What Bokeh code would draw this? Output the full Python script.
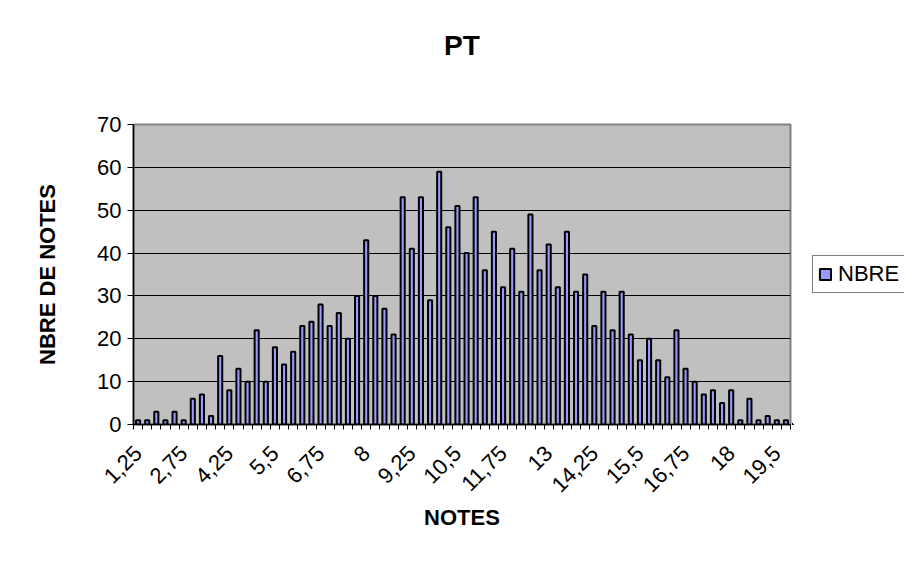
from bokeh.plotting import figure
from bokeh.layouts import row
from bokeh.models import (Range1d, FixedTicker, Legend, LegendItem, Title,
                          ColumnDataSource)
from bokeh.embed import file_html
from bokeh.resources import INLINE

notes = [1.25, 1.5, 1.75, 2, 2.5, 2.75, 3, 3.25, 3.5, 4, 4.25, 4.5, 4.75, 5,
         5.25, 5.5, 5.75, 6, 6.25, 6.5, 6.75, 7, 7.25, 7.5, 7.75, 8, 8.25,
         8.5, 8.75, 9, 9.25, 9.5, 9.75, 10, 10.25, 10.5, 10.75, 11, 11.25,
         11.5, 11.75, 12, 12.25, 12.5, 12.75, 13, 13.25, 13.5, 13.75, 14,
         14.25, 14.5, 14.75, 15, 15.25, 15.5, 15.75, 16, 16.25, 16.5, 16.75,
         17, 17.25, 17.5, 17.75, 18, 18.25, 18.5, 19, 19.25, 19.5, 20]
nbre = [1, 1, 3, 1, 3, 1, 6, 7, 2, 16, 8, 13, 10, 22, 10, 18, 14, 17, 23, 24,
        28, 23, 26, 20, 30, 43, 30, 27, 21, 53, 41, 53, 29, 59, 46, 51, 40,
        53, 36, 45, 32, 41, 31, 49, 36, 42, 32, 45, 31, 35, 23, 31, 22, 31,
        21, 15, 20, 15, 11, 22, 13, 10, 7, 8, 5, 8, 1, 6, 1, 2, 1, 1]
series_name = "NBRE"
label_every = 5
y_ticks = list(range(0, 80, 10))

FONT = "Liberation Sans"
BAR_FILL = "#9999FF"
idx = list(range(len(notes)))
labels = [f"{v:g}".replace(".", ",") for v in notes]

src = ColumnDataSource(dict(x=idx, top=nbre))

p = figure(frame_width=657, frame_height=300, output_backend="svg",
           toolbar_location=None, title=None,
           x_range=Range1d(-0.5, len(notes) - 0.5), y_range=Range1d(0, 70),
           min_border_left=133, min_border_right=2, min_border_top=124,
           min_border_bottom=141)
p.background_fill_color = "#C0C0C0"
p.border_fill_color = "white"
p.outline_line_color = "#808080"
p.outline_line_width = 2

p.vbar(x="x", top="top", width=0.45, bottom=0, source=src,
       fill_color=BAR_FILL, line_color="black", line_width=2)

# grid
p.xgrid.visible = False
p.ygrid.ticker = FixedTicker(ticks=y_ticks)
p.ygrid.grid_line_color = "black"
p.ygrid.grid_line_width = 1

# x axis
xa = p.xaxis[0]
major = idx[::label_every]
xa.ticker = FixedTicker(ticks=major,
                        minor_ticks=[i - 0.5 for i in idx] + [len(idx) - 0.5])
xa.major_label_overrides = {i: labels[i] for i in major}
xa.major_label_orientation = 0.785398
xa.major_label_standoff = 20
xa.major_tick_out = 0
xa.major_tick_in = 0
xa.minor_tick_out = 5
xa.minor_tick_in = 0
xa.minor_tick_line_color = "black"
xa.axis_line_color = "black"
xa.axis_line_width = 1.5
xa.major_label_text_font = FONT
xa.major_label_text_font_size = "22px"
xa.major_label_text_color = "black"
xa.axis_label = "NOTES"
xa.axis_label_text_font = FONT
xa.axis_label_text_font_size = "22px"
xa.axis_label_text_font_style = "bold"
xa.axis_label_text_color = "black"
xa.axis_label_standoff = 3

# y axis
ya = p.yaxis[0]
ya.ticker = FixedTicker(ticks=y_ticks)
ya.major_tick_out = 6
ya.major_tick_in = 0
ya.minor_tick_out = 0
ya.minor_tick_in = 0
ya.axis_line_color = "black"
ya.axis_line_width = 1.5
ya.major_label_text_font = FONT
ya.major_label_text_font_size = "22px"
ya.major_label_text_color = "black"
ya.major_label_standoff = 6
ya.axis_label = "NBRE DE NOTES"
ya.axis_label_text_font = FONT
ya.axis_label_text_font_size = "22px"
ya.axis_label_text_font_style = "bold"
ya.axis_label_text_color = "black"
ya.axis_label_standoff = 34

# title (spacer first, nearest the frame, then the title above it)
p.add_layout(Title(text=" ", text_font_size="42px"), "above")
p.add_layout(Title(text="PT", align="center", offset=8,
                   text_font=FONT, text_font_size="28px",
                   text_font_style="bold", text_color="black"), "above")

# legend panel drawn as a small companion figure to the right; its key
# renderer uses the same series but its ranges keep every bar out of view
lf = figure(width=112, height=565, output_backend="svg",
            toolbar_location=None, title=None, min_border=0,
            x_range=Range1d(1000, 1001), y_range=Range1d(1000, 1001))
lf.axis.visible = False
lf.grid.visible = False
lf.outline_line_color = None
lf.background_fill_color = "white"
lf.border_fill_color = "white"
key = lf.vbar(x="x", top="top", width=0.45, bottom=0, source=src,
              fill_color=BAR_FILL, line_color="black", line_width=2)
legend = Legend(items=[LegendItem(label=series_name, renderers=[key])],
                location=(20, 131), orientation="vertical",
                glyph_width=14, glyph_height=14, label_standoff=6,
                padding=5, margin=0, spacing=0,
                label_text_font=FONT, label_text_font_size="22px",
                label_text_color="black",
                border_line_color="black", border_line_width=1,
                background_fill_color="white", background_fill_alpha=1)
lf.add_layout(legend)

layout = row(p, lf, spacing=0)
open("out.html", "w").write(file_html(layout, INLINE))
